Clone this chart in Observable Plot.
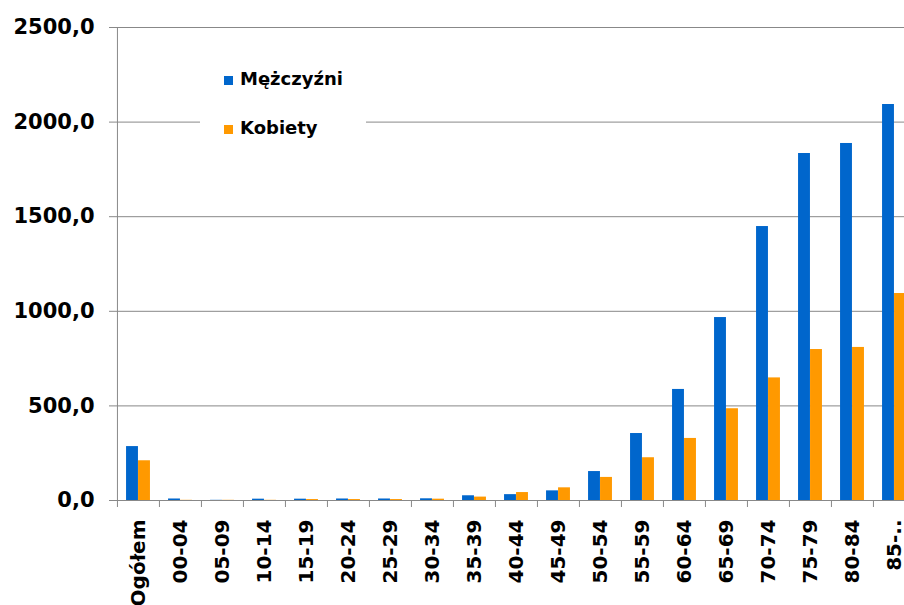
<!DOCTYPE html>
<html><head><meta charset="utf-8">
<script src="https://cdn.jsdelivr.net/npm/d3@7"></script>
<script src="https://cdn.jsdelivr.net/npm/@observablehq/plot@0.6"></script>
<style>
html,body{margin:0;padding:0;background:#fff;overflow:hidden;}
#wrap{position:relative;width:904px;height:605px;overflow:hidden;}
.legend{position:absolute;left:200px;top:55px;width:166px;height:95px;background:#fff;font:bold 18px "DejaVu Sans",sans-serif;color:#000;}
.item{position:absolute;left:24px;height:20px;line-height:20px;white-space:nowrap;}
.sw{display:inline-block;width:9px;height:9px;margin-right:7px;vertical-align:0px;}
</style></head>
<body><div id="wrap"></div>
<script>
const categories = ["Ogółem","00-04","05-09","10-14","15-19","20-24","25-29","30-34","35-39","40-44","45-49","50-54","55-59","60-64","65-69","70-74","75-79","80-84","85-.."];
const men   = [285, 8, 1, 7, 7, 8, 8, 9, 25, 31, 51, 153, 354, 587, 967, 1448, 1834, 1887, 2093];
const women = [210, 1, 1, 1, 5, 5, 5, 7, 18, 42, 67, 122, 226, 328, 485, 648, 798, 809, 1094];
const seriesNames = ["Mężczyźni", "Kobiety"];
const colors = ["#0066CC", "#FF9900"];
const yTicks = [0, 500, 1000, 1500, 2000, 2500];

const rows = categories.map((c, i) => ({category: c, men: men[i], women: women[i]}));
const xRange = [116, 916];
const step = (xRange[1] - xRange[0]) / categories.length;
const barW = 12;
const outer = step / 2 - barW;
const fmt = d => d.toFixed(1).replace(".", ",");

const chart = Plot.plot({
  width: 904,
  height: 605,
  marginLeft: 116,
  marginRight: 0,
  marginTop: 27,
  marginBottom: 105,
  style: {fontFamily: "DejaVu Sans", fontWeight: "bold", fontSize: "20px", color: "#000", background: "#fff", overflow: "hidden"},
  x: {domain: categories, range: xRange, padding: 0},
  y: {domain: [0, 2500], range: [500, 27]},
  marks: [
    Plot.gridY(yTicks, {stroke: "#888", strokeOpacity: 1}),
    Plot.barY(rows, {x: "category", y: "men", fill: colors[0], insetLeft: outer, insetRight: step / 2}),
    Plot.barY(rows, {x: "category", y: "women", fill: colors[1], insetLeft: step / 2, insetRight: outer}),
    Plot.ruleY([0], {stroke: "#888"}),
    Plot.ruleX([categories[0]], {x: d => d, y1: 2500, y2: -37, dx: -step / 2, stroke: "#888"}),
    Plot.ruleX(categories.slice(1), {x: d => d, y1: 0, y2: -37, dx: -step / 2, stroke: "#888"}),
    Plot.axisY(yTicks, {tickSize: 7, tickPadding: 15, tickFormat: fmt, stroke: "#888", fill: "#000", fontSize: 21, fontWeight: "bold", label: null}),
    Plot.axisX({tickSize: 0, tickRotate: -90, tickPadding: 19, fontSize: 20, fontWeight: "bold", fill: "#000", label: null})
  ]
});

const wrap = document.getElementById("wrap");
wrap.appendChild(chart);
const legend = document.createElement("div");
legend.className = "legend";
seriesNames.forEach((name, i) => {
  const it = document.createElement("div");
  it.className = "item";
  it.style.top = (i === 0 ? 14 : 63) + "px";
  const sw = document.createElement("span");
  sw.className = "sw";
  sw.style.background = colors[i];
  it.appendChild(sw);
  it.appendChild(document.createTextNode(name));
  legend.appendChild(it);
});
wrap.appendChild(legend);
</script>
</body></html>
